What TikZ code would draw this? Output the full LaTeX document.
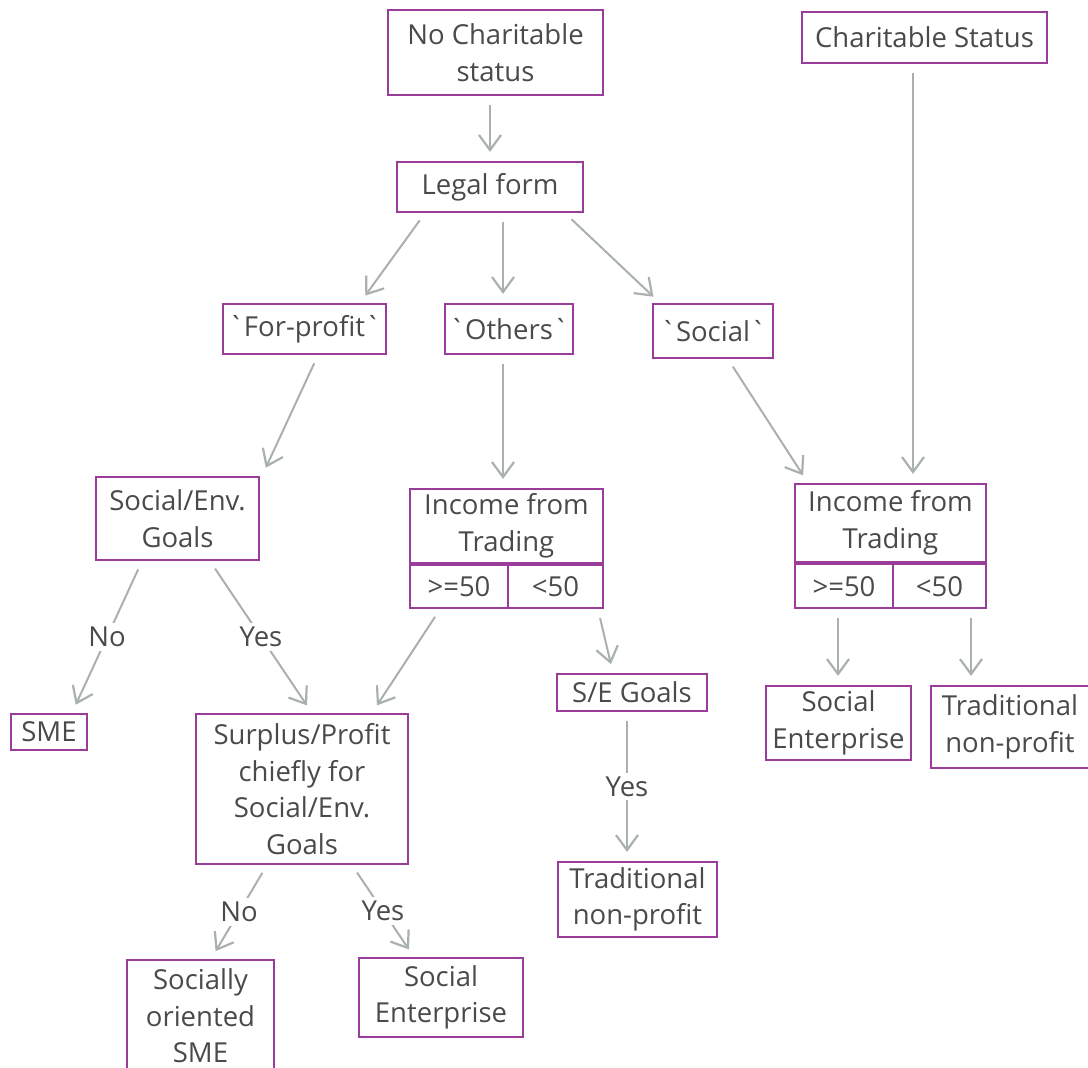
\documentclass[tikz,border=0pt]{standalone}
\usepackage{fontspec}
\setmainfont{Open Sans}
\usepackage{xcolor}
\usepackage{tikz}
\usetikzlibrary{arrows, arrows.meta}
\definecolor{boxpurple}{HTML}{9A3C9A}
\definecolor{edgegray}{HTML}{A9B1B0}
\definecolor{textgray}{HTML}{4A4A4A}

\tikzset{
  BoxStyle/.style={draw=boxpurple, line width=2.2pt, fill=white, text=textgray,
    align=center, inner sep=0pt, font=\fontsize{27.5}{36.5}\selectfont},
  EdgeStyle/.style={-{Straight Barb[length=15pt, width=22pt, line width=2.2pt]},
    draw=edgegray, line width=2pt, shorten >=9pt, shorten <=9pt},
  LabelStyle/.style={fill=white, text=textgray, inner sep=4pt,
    font=\fontsize{27.5}{30}\selectfont}
}

\begin{document}
\begin{tikzpicture}[x=1pt, y=-1pt]
\useasboundingbox (0,0) rectangle (1088,1068);
% top row
\node[BoxStyle, minimum width=215pt, minimum height=85pt] (nocs) at (495.5,52.5) {No Charitable\\status};
\node[BoxStyle, minimum width=245pt, minimum height=51pt] (cs) at (924.5,37.5) {Charitable Status};
\node[BoxStyle, minimum width=186pt, minimum height=50pt] (legal) at (490,187) {Legal form};
% legal forms
\node[BoxStyle, minimum width=163pt, minimum height=50pt] (fp) at (304.5,329) {\textasciigrave For-profit\textasciigrave};
\node[BoxStyle, minimum width=128pt, minimum height=50pt] (oth) at (509,329) {\textasciigrave Others\textasciigrave};
\node[BoxStyle, minimum width=120pt, minimum height=54pt] (soc) at (713,331) {\textasciigrave Social\textasciigrave};
% second level
\node[BoxStyle, minimum width=163pt, minimum height=83pt] (goals) at (177.5,518.5) {Social/Env.\\Goals};
\node[BoxStyle, minimum width=193pt, minimum height=74pt] (incm) at (506.5,526) {Income from\\Trading};
\node[BoxStyle, minimum width=98pt, minimum height=43pt, anchor=north west] (incmhi) at (incm.south west) {>=50};
\node[BoxStyle, minimum width=95pt, minimum height=43pt, anchor=north east] (incmlo) at (incm.south east) {<50};
\node[BoxStyle, minimum width=191pt, minimum height=78pt] (incr) at (890.5,523) {Income from\\Trading};
\node[BoxStyle, minimum width=98pt, minimum height=44pt, anchor=north west] (incrhi) at (incr.south west) {>=50};
\node[BoxStyle, minimum width=93pt, minimum height=44pt, anchor=north east] (incrlo) at (incr.south east) {<50};
% outcomes
\node[BoxStyle, minimum width=76pt, minimum height=36pt] (sme) at (49,732) {SME};
\node[BoxStyle, minimum width=212pt, minimum height=150pt] (surp) at (302,789) {Surplus/Profit\\chiefly for\\Social/Env.\\Goals};
\node[BoxStyle, minimum width=150pt, minimum height=37pt] (seg) at (632,692.5) {S/E Goals};
\node[BoxStyle, minimum width=159pt, minimum height=75pt] (tradm) at (637.5,899.5) {Traditional\\non-profit};
\node[BoxStyle, minimum width=145pt, minimum height=74pt] (ser) at (838.5,723) {Social\\Enterprise};
\node[BoxStyle, minimum width=158pt, minimum height=82pt] (tradr) at (1010,727) {Traditional\\non-profit};
\node[BoxStyle, minimum width=147pt, minimum height=112pt] (sosme) at (200.5,1016) {Socially\\oriented\\SME};
\node[BoxStyle, minimum width=164pt, minimum height=79pt] (seb) at (441,997.5) {Social\\Enterprise};
% connectors
\draw[EdgeStyle] (nocs.south -| 490,0) -- (legal.north -| 490,0);
\draw[EdgeStyle] (legal.south -| 425,0) -- (fp.north -| 360,0);
\draw[EdgeStyle] (legal.south -| 503,0) -- (oth.north -| 503,0);
\draw[EdgeStyle] (legal.south -| 565,0) -- (soc.north -| 660,0);
\draw[EdgeStyle] (fp.south -| 318,0) -- (goals.north -| 262,0);
\draw[EdgeStyle] (oth.south -| 503,0) -- (incm.north -| 503,0);
\draw[EdgeStyle] (soc.south -| 728,0) -- (incr.north -| 808,0);
\draw[EdgeStyle] (cs.south -| 913,0) -- (incr.north -| 913,0);
\draw[EdgeStyle] (goals.south -| 142,0) -- node[LabelStyle]{No} (sme.north -| 72,0);
\draw[EdgeStyle] (goals.south -| 210,0) -- node[LabelStyle]{Yes} (surp.north -| 312,0);
\draw[EdgeStyle] (incmhi.south -| 440,0) -- (surp.north -| 372,0);
\draw[EdgeStyle] (incmlo.south -| 598,0) -- (seg.north -| 613,0);
\draw[EdgeStyle] (seg.south -| 627,0) -- node[LabelStyle]{Yes} (tradm.north -| 627,0);
\draw[EdgeStyle] (incrhi.south -| 838,0) -- (ser.north -| 838,0);
\draw[EdgeStyle] (incrlo.south -| 971,0) -- (tradr.north -| 971,0);
\draw[EdgeStyle] (surp.south -| 267,0) -- node[LabelStyle]{No} (sosme.north -| 211,0);
\draw[EdgeStyle] (surp.south -| 352,0) -- node[LabelStyle]{Yes} (seb.north -| 414,0);
\end{tikzpicture}
\end{document}
